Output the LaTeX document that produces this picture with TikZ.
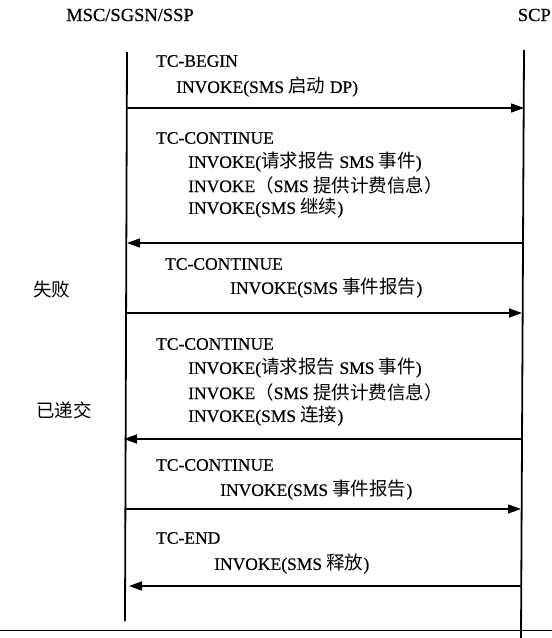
\documentclass[tikz,border=0pt]{standalone}
\usepackage{fontspec}
\setmainfont{Liberation Serif}[FakeBold=0.5]
\newfontfamily\cjkfnt{Noto Sans CJK SC}
\newcommand{\cj}[1]{{\cjkfnt\fontsize{18.5}{20}\selectfont #1}}
\usetikzlibrary{arrows.meta}
\begin{document}
\begin{tikzpicture}[x=1pt,y=-1pt,
  lbl/.style={anchor=west,inner sep=0pt,font=\fontsize{17.5}{20}\selectfont},
  hdr/.style={inner sep=0pt,font=\fontsize{18.5}{20}\selectfont},
  life/.style={line width=1.8pt},
  msg/.style={line width=1.4pt,-{Triangle[length=13pt,width=9pt]}},
  rule/.style={line width=0.9pt}]
\useasboundingbox (0,0) rectangle (552,638);
% header labels
\node[hdr,anchor=center] (msc) at (130,15) {MSC/SGSN/SSP};
\node[hdr,anchor=east] (scp) at (551,15) {SCP};
% lifelines
\coordinate (Ltop) at (127,52);
\coordinate (Lbot) at (125,621);
\coordinate (Rtop) at (524,50);
\coordinate (Rbot) at (521,638);
\draw[life] (Ltop) -- (Lbot);
\draw[life] (Rtop) -- (Rbot);
% bottom rule
\coordinate (B0) at (0,630);
\coordinate (B1) at (552,630);
\draw[rule] (B0) -- (B1);
% message end points
\coordinate (a1) at (127,108); \coordinate (b1) at (524,108);
\coordinate (a2) at (127,243); \coordinate (b2) at (523,243);
\coordinate (a3) at (126,313); \coordinate (b3) at (522,313);
\coordinate (a4) at (124,439); \coordinate (b4) at (522,439);
\coordinate (a5) at (125,509); \coordinate (b5) at (521,509);
\coordinate (a6) at (129,586); \coordinate (b6) at (521,586);
\draw[msg] (a1) -- (b1);
\draw[msg] (b2) -- (a2);
\draw[msg] (a3) -- (b3);
\draw[msg] (b4) -- (a4);
\draw[msg] (a5) -- (b5);
\draw[msg] (b6) -- (a6);
% message labels
\node[lbl] (m1a) at (156,61) {TC-BEGIN};
\node[lbl] (m1b) at (176,87) {INVOKE(SMS \cj{启动} DP)};
\node[lbl] (m2a) at (156,138) {TC-CONTINUE};
\node[lbl] (m2b) at (188,162) {INVOKE(\cj{请求报告} SMS \cj{事件})};
\node[lbl] (m2c) at (188,185) {INVOKE\cj{（}SMS \cj{提供计费信息）}};
\node[lbl] (m2d) at (188,208) {INVOKE(SMS \cj{继续})};
\node[lbl] (m3a) at (165,264) {TC-CONTINUE};
\node[lbl] (m3b) at (230,288) {INVOKE(SMS \cj{事件报告})};
\node[lbl] (s1) at (33,289) {\cj{失败}};
\node[lbl] (m4a) at (156,344) {TC-CONTINUE};
\node[lbl] (m4b) at (188,368) {INVOKE(\cj{请求报告} SMS \cj{事件})};
\node[lbl] (m4c) at (188,392) {INVOKE\cj{（}SMS \cj{提供计费信息）}};
\node[lbl] (m4d) at (188,416) {INVOKE(SMS \cj{连接})};
\node[lbl] (s2) at (36,410) {\cj{已递交}};
\node[lbl] (m5a) at (156,465) {TC-CONTINUE};
\node[lbl] (m5b) at (220,490) {INVOKE(SMS \cj{事件报告})};
\node[lbl] (m6a) at (156,538) {TC-END};
\node[lbl] (m6b) at (214,564) {INVOKE(SMS \cj{释放})};
\end{tikzpicture}
\end{document}
